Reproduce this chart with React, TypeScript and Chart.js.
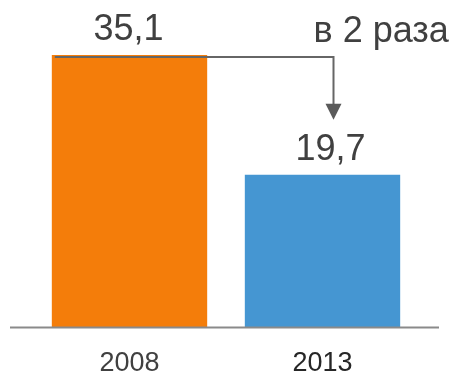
import React, { useEffect, useRef } from "react";
import { Chart, registerables } from "chart.js";

Chart.register(...registerables);

const categories = ["2008", "2013"];
const values = [35.1, 19.7];
const valueLabels = ["35,1", "19,7"];
const barColors = ["#F47D0A", "#4596D2"];
const tickColors = ["#404040", "#262626"];
const annotationText = "в 2 раза";

const FONT = '"Liberation Sans", Arial, sans-serif';

const overlayPlugin = {
  id: "overlay",
  afterDatasetsDraw(chart: any) {
    const ctx = chart.ctx;
    const meta = chart.getDatasetMeta(0);
    const yScale = chart.scales.y;
    const base = yScale.getPixelForValue(0);

    // baseline
    ctx.save();
    ctx.strokeStyle = "#8a8a8a";
    ctx.lineWidth = 2;
    ctx.beginPath();
    ctx.moveTo(10, base);
    ctx.lineTo(439, base);
    ctx.stroke();

    // value labels
    ctx.fillStyle = "#404040";
    ctx.font = `36px ${FONT}`;
    ctx.textAlign = "center";
    ctx.textBaseline = "alphabetic";
    const offsets = [-1, 8];
    meta.data.forEach((bar: any, i: number) => {
      ctx.fillText(valueLabels[i], bar.x + offsets[i], bar.y - 15);
    });

    // arrow
    const b0 = meta.data[0];
    const b1 = meta.data[1];
    const startX = b0.x - b0.width / 2 + 3;
    const lineY = b0.y + 2;
    const arrowX = b1.x + 11;
    const tipY = b1.y - 55;
    ctx.strokeStyle = "#666666";
    ctx.fillStyle = "#5a5a5a";
    ctx.lineWidth = 2;
    ctx.beginPath();
    ctx.moveTo(startX, lineY);
    ctx.lineTo(arrowX, lineY);
    ctx.lineTo(arrowX, tipY - 14);
    ctx.stroke();
    ctx.beginPath();
    ctx.moveTo(arrowX - 8, tipY - 16);
    ctx.lineTo(arrowX + 8, tipY - 16);
    ctx.lineTo(arrowX, tipY);
    ctx.closePath();
    ctx.fill();

    // annotation text
    ctx.fillStyle = "#404040";
    ctx.font = `36px ${FONT}`;
    ctx.textAlign = "left";
    ctx.fillText(annotationText, arrowX - 20, 42);
    ctx.restore();
  },
};

export default function App() {
  const ref = useRef<HTMLCanvasElement | null>(null);
  useEffect(() => {
    if (!ref.current) return;
    const chart = new Chart(ref.current, {
      type: "bar",
      data: {
        labels: categories,
        datasets: [
          {
            data: values,
            backgroundColor: barColors,
            barPercentage: 0.805,
            categoryPercentage: 1,
          },
        ],
      },
      options: {
        responsive: false,
        animation: false,
        devicePixelRatio: 1,
        layout: { padding: { left: 33, right: 37, top: 0, bottom: -24 } },
        plugins: { legend: { display: false }, tooltip: { enabled: false } },
        scales: {
          x: {
            grid: { display: false, drawTicks: false },
            border: { display: false },
            ticks: {
              color: tickColors,
              font: { family: FONT, size: 27 },
              padding: 20,
            },
          },
          y: {
            display: false,
            min: 0,
            max: 42.2,
          },
        },
      },
      plugins: [overlayPlugin],
    });
    return () => chart.destroy();
  }, []);
  return (
    <div style={{ position: "absolute", left: 0, top: 0, width: 456, height: 376, background: "#fff" }}>
      <canvas ref={ref} width={456} height={376} />
    </div>
  );
}
